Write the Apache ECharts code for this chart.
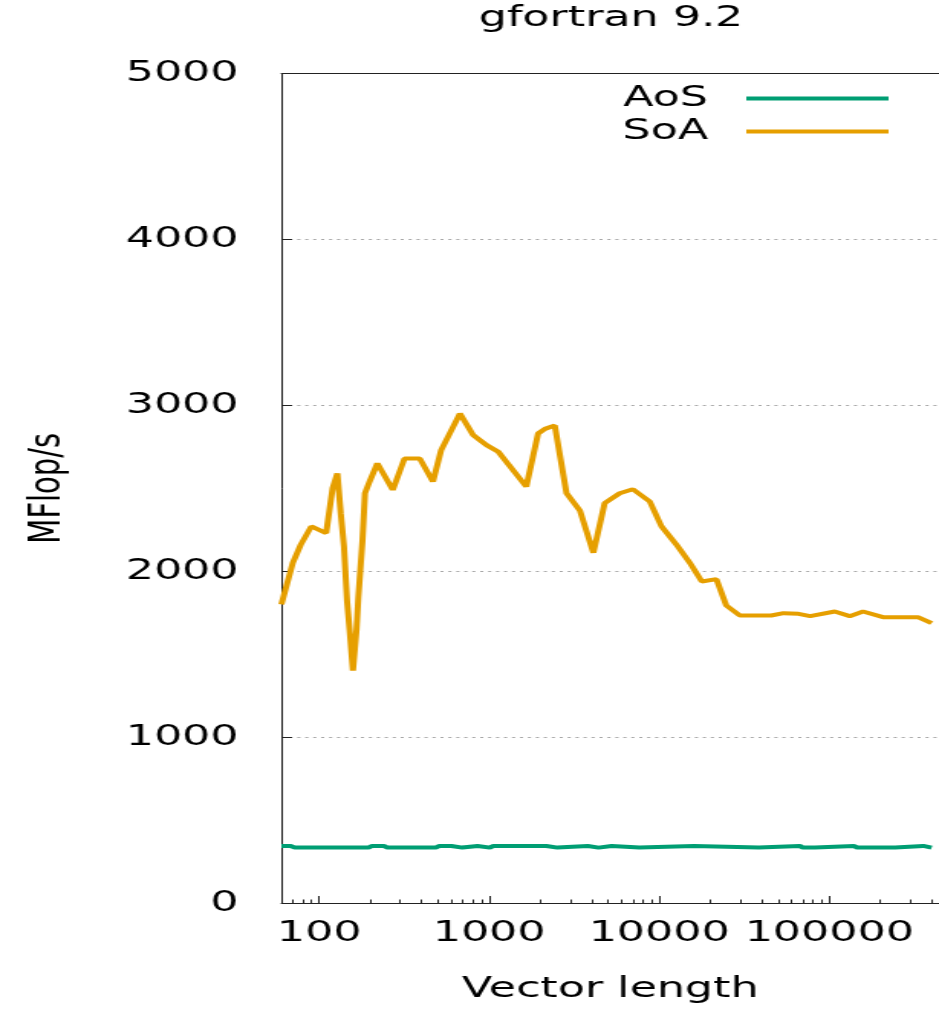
<!DOCTYPE html>
<html><head><meta charset="utf-8">
<script src="https://cdn.jsdelivr.net/npm/echarts@6/dist/echarts.min.js"></script>
<style>
html,body{margin:0;padding:0;overflow:hidden;background:#fff}
#wrap{width:939px;height:1009px;overflow:hidden;position:relative}
#c{width:614px;height:1009px;transform:scaleX(1.5293);transform-origin:0 0}
</style></head>
<body><div id="wrap"><div id="c"></div></div>
<script>
// Vector lengths and MFlop/s
var soaN = [60, 70, 78, 90, 110, 120, 128, 134, 140, 146, 151, 158, 166, 170, 180, 186, 198, 220, 271, 318, 390, 467, 522, 673, 806, 965, 1131, 1653, 1940, 2128, 2431, 2850, 3419, 4100, 4777, 5860, 7000, 8800, 10300, 12600, 15100, 17800, 21700, 24800, 29800, 45600, 53800, 66000, 77200, 107700, 132000, 158000, 207000, 332000, 400000];
var soaV = [1800, 2050, 2160, 2270, 2230, 2500, 2590, 2350, 2150, 1820, 1650, 1400, 1650, 1840, 2190, 2470, 2540, 2650, 2490, 2680, 2680, 2540, 2730, 2950, 2820, 2760, 2720, 2510, 2830, 2858, 2878, 2470, 2365, 2111, 2410, 2470, 2494, 2420, 2271, 2161, 2052, 1938, 1952, 1793, 1733, 1733, 1747, 1743, 1729, 1757, 1729, 1757, 1723, 1723, 1687];
var aosN = [60, 68, 72, 195, 205, 240, 252, 485, 510, 600, 622, 695, 720, 855, 880, 1010, 1060, 2170, 2260, 2520, 2620, 3800, 3950, 4400, 4560, 5250, 5450, 7650, 7950, 16000, 16600, 38500, 40000, 67000, 70000, 82500, 85800, 140000, 146000, 244000, 254000, 357000, 372000, 400000];
var aosV = [344, 344, 334, 334, 344, 344, 334, 334, 344, 344, 334, 334, 344, 344, 334, 334, 344, 344, 334, 334, 344, 344, 334, 334, 344, 344, 334, 334, 344, 344, 334, 334, 344, 344, 334, 334, 344, 344, 334, 334, 344, 344, 334, 334];
var seriesNames = ['AoS', 'SoA'];
var xMajorTicks = [100, 1000, 10000, 100000];
var xMinorTicks = [70, 80, 90, 200, 300, 400, 500, 600, 700, 800, 900, 2000, 3000, 4000, 5000, 6000, 7000, 8000, 9000, 20000, 30000, 40000, 50000, 60000, 70000, 80000, 90000, 200000, 300000, 400000];
var yTicks = [0, 1000, 2000, 3000, 4000, 5000];
var titleText = 'gfortran 9.2';
var xName = 'Vector length';
var yName = 'MFlop/s';

function pairs(a, b) { return a.map(function (v, i) { return [v, b[i]]; }); }

var FONT = 'DejaVu Sans';
var AX = '#222';
var chart = echarts.init(document.getElementById('c'), null, {renderer: 'canvas'});
chart.setOption({
  animation: false,
  backgroundColor: '#fff',
  textStyle: {fontFamily: FONT},
  title: {
    text: titleText, left: 313, top: 4, padding: 0,
    textStyle: {fontFamily: FONT, fontSize: 29, fontWeight: 'normal', color: '#000'}
  },
  legend: {
    orient: 'vertical', right: 33, top: 82, padding: 0, itemGap: 0,
    align: 'right', itemWidth: 93, itemHeight: 4, icon: 'rect',
    textStyle: {fontFamily: FONT, fontSize: 29, color: '#000', lineHeight: 33, padding: [0, 20, 0, 0]},
    data: seriesNames
  },
  grid: {left: 184, right: 0, top: 73.5, bottom: 99, containLabel: false},
  xAxis: [{
    type: 'log', logBase: 10, min: 60, max: 442000, position: 'bottom',
    name: xName, nameLocation: 'middle', nameGap: 72,
    nameTextStyle: {fontFamily: FONT, fontSize: 29, color: '#000'},
    axisLine: {show: true, lineStyle: {color: AX, width: 1}},
    axisTick: {show: true, inside: true, length: 7, lineStyle: {color: AX}, customValues: xMajorTicks},
    axisLabel: {show: true, margin: 16, fontFamily: FONT, fontSize: 29, color: '#000', customValues: xMajorTicks,
      formatter: function (v) { return String(Math.round(v)); }},
    splitLine: {show: false}, minorTick: {show: false}
  }, {
    type: 'log', logBase: 10, min: 60, max: 442000, position: 'bottom',
    axisLine: {show: false},
    axisTick: {show: true, inside: true, length: 3.5, lineStyle: {color: AX}, customValues: xMinorTicks},
    axisLabel: {show: false}, splitLine: {show: false}
  }, {
    type: 'log', logBase: 10, min: 60, max: 442000, position: 'top',
    axisLine: {show: true, lineStyle: {color: AX, width: 1}},
    axisTick: {show: false}, axisLabel: {show: false}, splitLine: {show: false}
  }],
  yAxis: {
    type: 'value', min: 0, max: 5000, interval: 1000,
    name: yName, nameLocation: 'middle', nameGap: 138, nameRotate: 90,
    nameTextStyle: {fontFamily: FONT, fontSize: 29, color: '#000'},
    axisLine: {show: true, lineStyle: {color: AX, width: 1}},
    axisTick: {show: true, inside: true, length: 7, lineStyle: {color: AX}},
    axisLabel: {margin: 28, fontFamily: FONT, fontSize: 29, color: '#000',
      formatter: function (v) { return String(v); }},
    splitLine: {show: true, lineStyle: {color: '#a8a8a8', width: 1, type: [2, 3.2]}}
  },
  series: [{
    name: seriesNames[0], type: 'line', xAxisIndex: 0, showSymbol: false, symbol: 'none',
    color: '#009e73', lineStyle: {width: 4, color: '#009e73'}, data: pairs(aosN, aosV), z: 3
  }, {
    name: seriesNames[1], type: 'line', xAxisIndex: 0, showSymbol: false, symbol: 'none',
    color: '#e69f00', lineStyle: {width: 4, color: '#e69f00'}, data: pairs(soaN, soaV), z: 3
  }]
});
</script>
</body></html>
